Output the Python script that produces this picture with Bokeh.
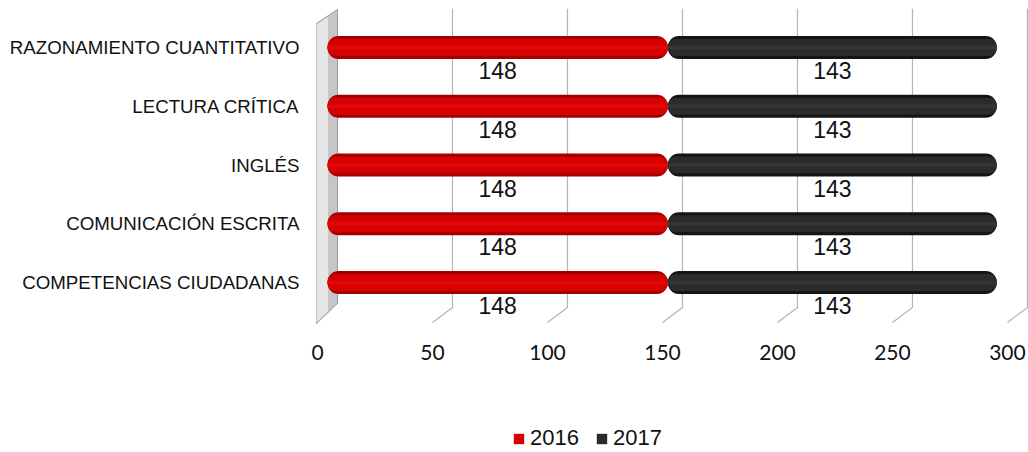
from bokeh.plotting import figure
from bokeh.models import (Range1d, FixedTicker, Legend, LegendItem,
                          ColumnDataSource)
from bokeh.core.properties import value
from bokeh.embed import file_html
from bokeh.resources import INLINE

# ---- data ----
categories = ["RAZONAMIENTO CUANTITATIVO", "LECTURA CRÍTICA", "INGLÉS",
              "COMUNICACIÓN ESCRITA", "COMPETENCIAS CIUDADANAS"]
series_names = ["2016", "2017"]
values_2016 = [148, 148, 148, 148, 148]
values_2017 = [143, 143, 143, 143, 143]
x_ticks = [0, 50, 100, 150, 200, 250, 300]

# ---- geometry helpers (layout, not data) ----
n = len(categories)
ypos = [n - 1 - i for i in range(n)]          # top category highest
D = 4.35                                      # perspective depth in x units
ROW = 58.75                                   # px per category row
X0, X1 = -7.826, 304.8
Y1 = 4.664
Y0 = -(452 - 282) / ROW

p = figure(width=1028, height=452, output_backend="svg", toolbar_location=None,
           x_range=Range1d(X0, X1), y_range=Range1d(Y0, Y1),
           min_border_left=309, min_border_right=0, min_border_top=8,
           min_border_bottom=0)
p.outline_line_color = None
p.xgrid.visible = False
p.ygrid.visible = False
p.xaxis.visible = False
p.background_fill_color = "white"

# y axis with category labels
p.yaxis.ticker = FixedTicker(ticks=ypos)
p.yaxis.major_label_overrides = {y: c for y, c in zip(ypos, categories)}
p.yaxis.axis_line_color = None
p.yaxis.major_tick_line_color = None
p.yaxis.minor_tick_line_color = None
p.yaxis.major_label_text_font = "Liberation Sans"
p.yaxis.major_label_text_font_size = "18.7px"
p.yaxis.major_label_text_color = "#111111"
p.yaxis.major_label_standoff = 4

# left side wall
yb_back = -(307 - 282) / ROW
yb_front = -(322 - 282) / ROW
p.patch([-4.78, D, D, -4.78], [4.4085, 4.647, -0.357, -0.698],
        fill_color="#c6c6c6", line_color="#9c9c9c", line_width=1)
p.patch([-4.78, 0.2, 0.2, -4.78], [4.39, 4.52, -0.49, -0.68],
        fill_color="#e6e6e6", line_color=None)

# perspective grid lines
gx = [[t + D, t + D, t - D] for t in x_ticks[1:]]
gy = [[Y1, yb_back, yb_front] for _ in x_ticks[1:]]
p.multi_line(gx, gy, line_color="#b4b4b4", line_width=1.2)

# x tick labels on the front plane
tick_y = -(352 - 282) / ROW
p.text(x=[t - D for t in x_ticks], y=[tick_y] * len(x_ticks),
       text=[str(t) for t in x_ticks], text_align="center",
       text_baseline="middle", text_font=value("Lato"),
       text_font_size="21px", text_color="#111111")

# bars
left17 = values_2016
right17 = [a + b for a, b in zip(values_2016, values_2017)]
src = ColumnDataSource(dict(y=ypos, v16=values_2016, l17=left17, r17=right17,
                            zero=[0] * n))
H = 23 / ROW

p.hbar(y="y", left="l17", right="r17", height=H, source=src,
       fill_color="#141414", line_color=None, border_radius=11)
r17 = p.hbar(y="y", left="l17", right="r17", height=H * 0.74, source=src,
             fill_color="#2b2b2b", line_color=None, border_radius=8)
p.hbar(y="y", left="l17", right="r17", height=H * 0.16, source=src,
       fill_color="#363636", line_color=None, border_radius=2)

p.hbar(y="y", left="zero", right="v16", height=H, source=src,
       fill_color="#a00000", line_color=None, border_radius=11)
r16 = p.hbar(y="y", left="zero", right="v16", height=H * 0.74, source=src,
             fill_color="#d60000", line_color=None, border_radius=8)
p.hbar(y="y", left="zero", right="v16", height=H * 0.16, source=src,
       fill_color="#e00808", line_color=None, border_radius=2)

# data labels
lab_dy = 23 / ROW
p.text(x=[v / 2 for v in values_2016], y=[y - lab_dy for y in ypos],
       text=[str(v) for v in values_2016], text_align="center",
       text_baseline="middle", text_font=value("Liberation Sans"),
       text_font_size="23px", text_color="#111111")
p.text(x=[a + b / 2 for a, b in zip(values_2016, values_2017)],
       y=[y - lab_dy for y in ypos],
       text=[str(v) for v in values_2017], text_align="center",
       text_baseline="middle", text_font=value("Liberation Sans"),
       text_font_size="23px", text_color="#111111")

legend = Legend(items=[LegendItem(label=series_names[0], renderers=[r16]),
                       LegendItem(label=series_names[1], renderers=[r17])],
                orientation="horizontal", location=(203, 1),
                glyph_width=13, glyph_height=13, label_height=13,
                label_standoff=5, spacing=16, padding=0, margin=0,
                border_line_color=None, background_fill_alpha=0,
                label_text_font="Liberation Sans", label_text_font_size="22px",
                label_text_color="#111111")
p.add_layout(legend, "center")

open("out.html", "w").write(file_html(p, INLINE))
